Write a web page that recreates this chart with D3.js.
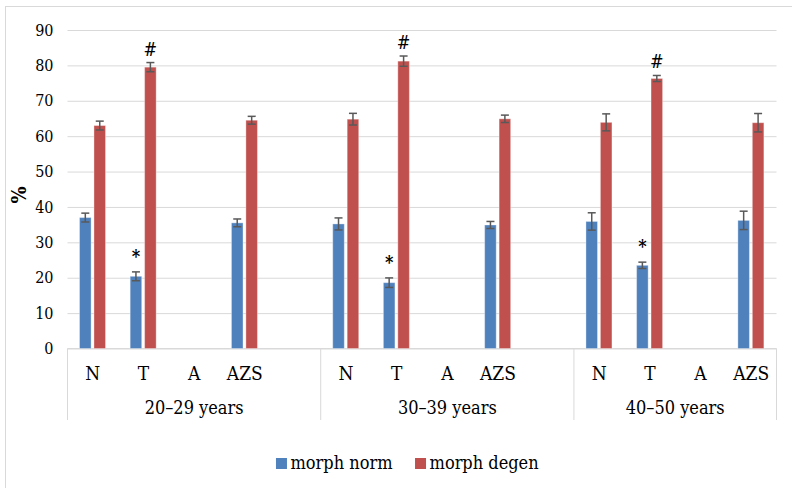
<!DOCTYPE html>
<meta charset="utf-8">
<style>
  body { margin: 0; background: #fff; }
</style>
<script src="https://d3js.org/d3.v7.min.js"></script>
<div id="chart"></div>
<script>

// ---- data ----
var groups = ["20–29 years", "30–39 years", "40–50 years"];
var categories = ["N", "T", "A", "AZS"];
// morph norm (blue) and morph degen (red), group by group
var normValues = [37.0, 20.4, 0, 35.5,   35.2, 18.6, 0, 34.9,   35.9, 23.5, 0, 36.2];
var normErrors = [1.25, 1.25, 0, 1.1,    1.7, 1.35, 0, 1.0,     2.45, 0.9, 0, 2.6];
var degenValues = [63.0, 79.5, 0, 64.5,  64.8, 81.2, 0, 64.9,   63.9, 76.3, 0, 63.8];
var degenErrors = [1.25, 1.3, 0, 1.1,    1.65, 1.45, 0, 1.05,   2.4, 0.85, 0, 2.6];
var normMarks = ["", "*", "", "",  "", "*", "", "",  "", "*", "", ""];
var degenMarks = ["", "#", "", "",  "", "#", "", "",  "", "#", "", ""];
var seriesNames = ["morph norm", "morph degen"];
var seriesColors = ["#4f81bd", "#c0504d"];
var yTicks = [0, 10, 20, 30, 40, 50, 60, 70, 80, 90];

var width = 792, height = 488;
var plot = {left: 67.5, right: 776.5, top: 30, bottom: 348.5};
var serif = "'DejaVu Serif Condensed', 'DejaVu Serif', serif";

var svg = d3.select("#chart").append("svg")
  .attr("width", width)
  .attr("height", height)
  .attr("font-family", serif)
  .style("font-stretch", "condensed");

// chart frame (right and bottom edges are outside the picture)
svg.append("rect")
  .attr("x", 5.5).attr("y", 6.5)
  .attr("width", 820).attr("height", 520)
  .attr("fill", "none")
  .attr("stroke", "#d9d9d9");

// slots: every group has the four categories, the first two have one blank slot after
var slots = [];
groups.forEach(function(g, gi) {
  categories.forEach(function(c) { slots.push({group: g, cat: c, key: g + "|" + c}); });
  if (gi < groups.length - 1) slots.push({group: g, cat: "", key: g + "|blank"});
});

var x = d3.scaleBand()
  .domain(slots.map(function(d) { return d.key; }))
  .range([plot.left, plot.right]);

var xSub = d3.scaleBand()
  .domain(seriesNames)
  .range([-13.3, 12.7])
  .paddingInner(0.2);

var y = d3.scaleLinear()
  .domain([0, 90])
  .range([plot.bottom, plot.top]);

// y axis with gridlines
var yAxis = svg.append("g")
  .attr("transform", "translate(" + plot.left + ",0)")
  .call(d3.axisLeft(y).tickValues(yTicks).tickSize(-(plot.right - plot.left)).tickPadding(14));
yAxis.attr("font-family", serif).attr("font-size", 16);
yAxis.select(".domain").remove();
yAxis.selectAll(".tick line").attr("stroke", "#d9d9d9").attr("stroke-width", 1);
yAxis.selectAll(".tick text").attr("fill", "#000");

// y title
svg.append("text")
  .attr("transform", "translate(26,195) rotate(-90)")
  .attr("text-anchor", "middle")
  .attr("font-size", 20)
  .attr("font-weight", "bold")
  .text("%");

// category axis
var cat = svg.append("g");
cat.append("line")
  .attr("x1", plot.left).attr("x2", plot.right)
  .attr("y1", plot.bottom).attr("y2", plot.bottom)
  .attr("stroke", "#d9d9d9");

var bounds = [plot.left];
groups.forEach(function(g) {
  var keys = slots.filter(function(s) { return s.group == g; });
  var last = keys[keys.length - 1];
  bounds.push(x(last.key) + x.bandwidth());
});
cat.selectAll(".sep")
  .data(bounds)
  .enter().append("line")
  .attr("x1", function(d) { return d; }).attr("x2", function(d) { return d; })
  .attr("y1", plot.bottom).attr("y2", 420)
  .attr("stroke", "#d9d9d9");

cat.selectAll(".catlabel")
  .data(slots.filter(function(s) { return s.cat != ""; }))
  .enter().append("text")
  .attr("x", function(d) { return x(d.key) + x.bandwidth() / 2; })
  .attr("y", 379.5)
  .attr("text-anchor", "middle")
  .attr("font-size", 19)
  .text(function(d) { return d.cat; });

cat.selectAll(".grouplabel")
  .data(groups)
  .enter().append("text")
  .attr("x", function(d, i) { return (bounds[i] + bounds[i + 1]) / 2; })
  .attr("y", 414)
  .attr("text-anchor", "middle")
  .attr("font-size", 18)
  .text(function(d) { return d; });

// bars
var rows = [];
var realSlots = slots.filter(function(s) { return s.cat != ""; });
realSlots.forEach(function(s, i) {
  rows.push({key: s.key, series: seriesNames[0], color: seriesColors[0], value: normValues[i], err: normErrors[i], mark: normMarks[i]});
  rows.push({key: s.key, series: seriesNames[1], color: seriesColors[1], value: degenValues[i], err: degenErrors[i], mark: degenMarks[i]});
});

function cx(d) { return x(d.key) + x.bandwidth() / 2 + xSub(d.series) + xSub.bandwidth() / 2; }

svg.selectAll(".bar")
  .data(rows)
  .enter().append("rect")
  .attr("x", function(d) { return x(d.key) + x.bandwidth() / 2 + xSub(d.series); })
  .attr("y", function(d) { return y(d.value); })
  .attr("width", xSub.bandwidth())
  .attr("height", function(d) { return y(0) - y(d.value); })
  .attr("fill", function(d) { return d.color; })
  .attr("stroke", "rgba(255,255,255,0.35)")
  .attr("stroke-width", 1);

// error bars
var eb = svg.selectAll(".err")
  .data(rows.filter(function(d) { return d.err > 0; }))
  .enter().append("g")
  .attr("stroke", "#595959")
  .attr("stroke-width", 1.5);
eb.append("line")
  .attr("x1", cx).attr("x2", cx)
  .attr("y1", function(d) { return y(d.value + d.err); })
  .attr("y2", function(d) { return y(d.value - d.err); });
eb.append("line")
  .attr("x1", function(d) { return cx(d) - 4; }).attr("x2", function(d) { return cx(d) + 4; })
  .attr("y1", function(d) { return y(d.value + d.err); })
  .attr("y2", function(d) { return y(d.value + d.err); });
eb.append("line")
  .attr("x1", function(d) { return cx(d) - 4; }).attr("x2", function(d) { return cx(d) + 4; })
  .attr("y1", function(d) { return y(d.value - d.err); })
  .attr("y2", function(d) { return y(d.value - d.err); });

// significance marks
svg.selectAll(".mark")
  .data(rows.filter(function(d) { return d.mark != ""; }))
  .enter().append("text")
  .attr("x", cx)
  .attr("y", function(d) { return y(d.value + d.err) - (d.mark == "*" ? 9 : 7); })
  .attr("text-anchor", "middle")
  .attr("font-size", 18)
  .attr("font-weight", function(d) { return d.mark == "*" ? "bold" : "normal"; })
  .text(function(d) { return d.mark; });

// legend, laid out from the text widths and centred where the original sits
var legend = svg.selectAll(".legend")
  .data(seriesNames)
  .enter().append("g");
legend.append("rect")
  .attr("width", 11).attr("height", 11)
  .attr("fill", function(d, i) { return seriesColors[i]; });
legend.append("text")
  .attr("x", 14.5)
  .attr("y", 11)
  .attr("font-size", 18)
  .text(function(d) { return d; });

var itemW = [];
legend.select("text").each(function() { itemW.push(14.5 + this.getComputedTextLength()); });
var gap = 22.5;
var totalW = d3.sum(itemW) + gap * (itemW.length - 1);
var lx = 407.3 - totalW / 2;
legend.attr("transform", function(d, i) {
  var pos = lx;
  lx += itemW[i] + gap;
  return "translate(" + pos + ",458)";
});

</script>
